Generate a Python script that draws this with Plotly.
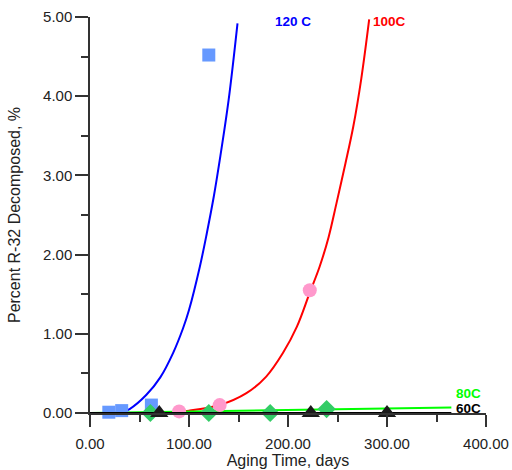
import plotly.graph_objects as go

# Measured data points
sq_x = [19, 32, 62, 120]
sq_y = [0.01, 0.03, 0.10, 4.52]
circ_x = [90, 131, 222]
circ_y = [0.02, 0.10, 1.55]
dia_x = [61, 120, 182, 239]
dia_y = [0.0, 0.0, 0.0, 0.05]
tri_x = [70, 223, 300]
tri_y = [0.0, 0.0, 0.0]

# Fitted curves
c120_x = [0, 25, 32, 40, 57, 71, 84, 94, 100, 111, 118, 125, 131, 140, 149]
c120_y = [0, 0, 0.01, 0.05, 0.23, 0.45, 0.76, 1.07, 1.30, 1.85, 2.27, 2.73, 3.19, 3.95, 4.92]
c100_x = [0, 40, 80, 100, 131, 158, 178, 195, 209, 222, 232, 241, 249, 258, 266, 274, 282]
c100_y = [0, 0, 0.01, 0.03, 0.10, 0.25, 0.46, 0.76, 1.09, 1.52, 1.85, 2.22, 2.65, 3.15, 3.62, 4.22, 4.97]
c80_x = [0, 365]
c80_y = [0, 0.07]
c60_x = [0, 365]
c60_y = [0, 0.0]

FONT = "Liberation Sans, Arial, sans-serif"

fig = go.Figure()
fig.add_trace(go.Scatter(x=c120_x, y=c120_y, mode="lines", line=dict(color="#0000FF", width=2, shape="spline"), cliponaxis=False))
fig.add_trace(go.Scatter(x=c100_x, y=c100_y, mode="lines", line=dict(color="#FF0000", width=2, shape="spline"), cliponaxis=False))
fig.add_trace(go.Scatter(x=c80_x, y=c80_y, mode="lines", line=dict(color="#00FF00", width=2), cliponaxis=False))
fig.add_trace(go.Scatter(x=sq_x, y=sq_y, mode="markers", marker=dict(symbol="square", size=13, color="#6699FF"), cliponaxis=False))
fig.add_trace(go.Scatter(x=circ_x, y=circ_y, mode="markers", marker=dict(symbol="circle", size=14, color="#FF99CC"), cliponaxis=False))
fig.add_trace(go.Scatter(x=dia_x, y=dia_y, mode="markers", marker=dict(symbol="diamond", size=14, color="#33CC66"), cliponaxis=False))
fig.add_trace(go.Scatter(x=c60_x, y=c60_y, mode="lines", line=dict(color="#000000", width=2), cliponaxis=False))
fig.add_trace(go.Scatter(x=tri_x, y=tri_y, mode="markers", marker=dict(symbol="triangle-up", size=16, color="#1A1A1A"), cliponaxis=False))

labels = [("120 C", 205, 4.94, "#0000FF"), ("100C", 303, 4.94, "#FF0000"),
          ("80C", 382, 0.25, "#00FF00"), ("60C", 382, 0.055, "#000000")]
for t, x, y, c in labels:
    fig.add_annotation(x=x, y=y, text="<b>%s</b>" % t, showarrow=False,
                       font=dict(family=FONT, size=13.5, color=c))

axis_common = dict(showline=True, linecolor="#333333", linewidth=1.5, showgrid=False, zeroline=False,
                   ticks="outside", tickcolor="#333333", tickwidth=1.5, tickformat=".2f", automargin=False,
                   tickfont=dict(family=FONT, size=15, color="#222222"))
fig.update_xaxes(range=[0, 400], dtick=100, tick0=0, ticklen=12, ticklabelstandoff=4,
                 minor=dict(dtick=50, ticklen=7, ticks="outside", tickcolor="#333333", tickwidth=1.5),
                 title=dict(text="Aging Time, days", font=dict(family=FONT, size=16, color="#222222"), standoff=3),
                 **axis_common)
fig.update_yaxes(range=[0, 5], dtick=1, tick0=0, ticklen=13,
                 minor=dict(dtick=0.5, ticklen=7, ticks="outside", tickcolor="#333333", tickwidth=1.5),
                 title=dict(text="Percent R-32 Decomposed, %", font=dict(family=FONT, size=16, color="#222222"), standoff=18),
                 **axis_common)
fig.update_layout(width=512, height=470, margin=dict(l=90, r=26, t=17, b=57),
                  plot_bgcolor="white", paper_bgcolor="white", showlegend=False)
fig.write_html("out.html", config={"displayModeBar": False},
               post_script="document.body.style.margin='0';document.body.style.padding='0';")
